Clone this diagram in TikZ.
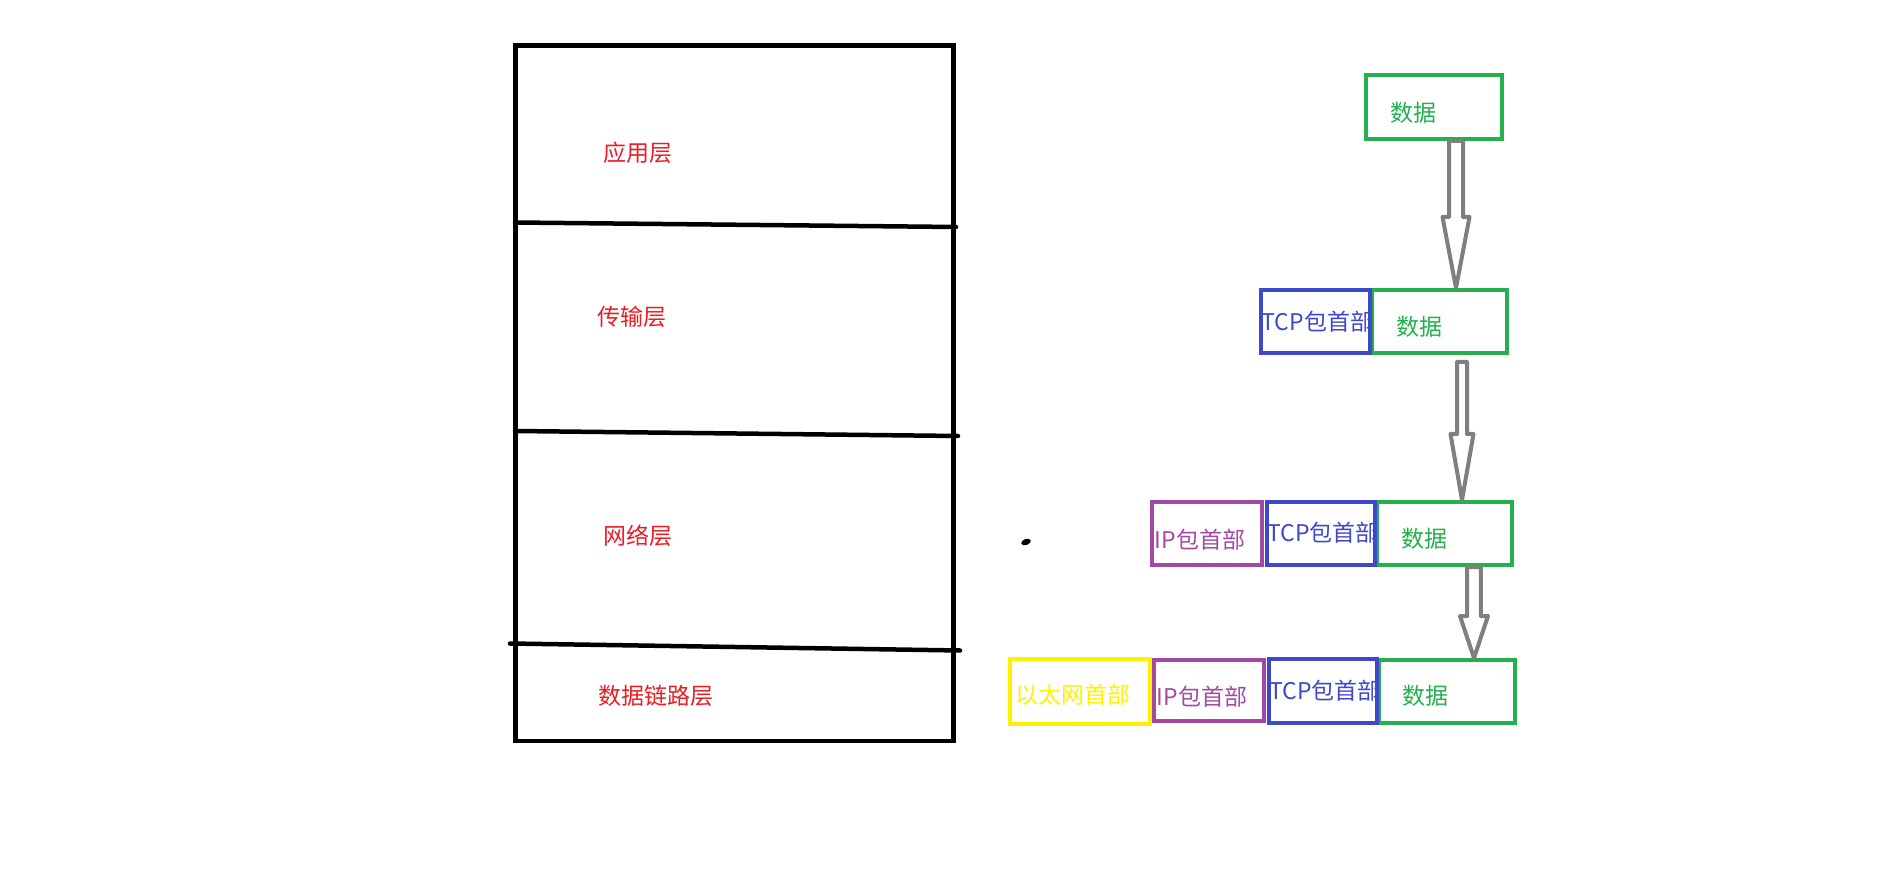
\documentclass[tikz,border=0pt]{standalone}
\usepackage{fontspec}
\setmainfont{Noto Sans CJK SC}
\usetikzlibrary{calc}
\definecolor{pred}{HTML}{ED1C24}
\definecolor{pgreen}{HTML}{22B14C}
\definecolor{pblue}{HTML}{3F48CC}
\definecolor{ppurple}{HTML}{A349A4}
\definecolor{pyellow}{HTML}{FFF200}
\definecolor{pgray}{HTML}{7F7F7F}
\tikzset{
  txt/.style={font=\fontsize{23}{27}\selectfont, inner sep=0pt},
  lay/.style={txt, text=pred},
  sep/.style={line width=4.5pt, line cap=round},
  box/.style={draw, line width=4pt},
  gbox/.style={box, pgreen}, btxt/.style={txt, text=pblue},
  bbox/.style={box, pblue}, gtxt/.style={txt, text=pgreen},
  pbox/.style={box, ppurple}, ptxt/.style={txt, text=ppurple},
  ybox/.style={box, pyellow}, ytxt/.style={txt, text=pyellow},
  hollow/.style={draw=pgray, fill=white, line width=4pt, line join=round}
}
\newcommand{\fatarrow}[5]{%
  \path[hollow] let \p1=(#1), \p2=(#2) in
    (\x1-#4,\y1) -- (\x1-#4,\y2+#3) -- (\x1-#5,\y2+#3) -- (\x1,\y2)
    -- (\x1+#5,\y2+#3) -- (\x1+#4,\y2+#3) -- (\x1+#4,\y1) -- cycle;}
\begin{document}
\begin{tikzpicture}[x=1pt,y=-1pt]
\fill[white] (0,0) rectangle (1904,882);
\useasboundingbox (0,0) rectangle (1904,882);

\draw[line width=4.7pt] (515.5,45.5) rectangle (953.5,741);
\draw[sep] (515,222.5) -- (956,227);
\draw[sep] (515,431) -- (958,436);
\draw[sep] (510,643.5) -- (960,650.5);
\node[lay] (app) at (637.5,153) {应用层};
\node[lay] (tra) at (632,317) {传输层};
\node[lay] (net) at (638,536) {网络层};
\node[lay] (lnk) at (656,696) {数据链路层};

\fill[rotate around={20:(1026,542)}] (1026,542) ellipse (5 and 3);

\node[gtxt] (d1l) at (1413,113) {数据};
\node[gbox, minimum width=136pt, minimum height=64pt] (d1) at (1434,107) {};

\node[btxt] (t2l) at (1317.5,322) {TCP包首部};
\node[gtxt] (d2l) at (1419,327) {数据};
\node[gbox, minimum width=135pt, minimum height=63pt] (d2) at (1439.5,321.5) {};
\node[bbox, minimum width=109pt, minimum height=63pt] (t2) at (1315.5,321.5) {};

\node[ptxt] (i3l) at (1200,540) {IP包首部};
\node[btxt] (t3l) at (1323,533) {TCP包首部};
\node[gtxt] (d3l) at (1424.5,538.5) {数据};
\node[gbox, minimum width=135pt, minimum height=63pt] (d3) at (1444.5,533.5) {};
\node[bbox, minimum width=108pt, minimum height=63pt] (t3) at (1321,533.5) {};
\node[pbox, minimum width=110pt, minimum height=63pt] (i3) at (1207,533.5) {};

\node[ytxt] (e4l) at (1072.5,695) {以太网首部};
\node[ptxt] (i4l) at (1202,697) {IP包首部};
\node[btxt] (t4l) at (1325,691) {TCP包首部};
\node[gtxt] (d4l) at (1425.5,696) {数据};
\node[gbox, minimum width=136pt, minimum height=63pt] (d4) at (1447,691.5) {};
\node[bbox, minimum width=108pt, minimum height=64pt] (t4) at (1323,691) {};
\node[pbox, minimum width=110pt, minimum height=61pt] (i4) at (1209,690.5) {};
\node[ybox, minimum width=140pt, minimum height=65pt] (e4) at (1080,691.5) {};

\coordinate (a1) at (1456,0);
\coordinate (a2) at (1462,0);
\coordinate (a3) at (1474,0);
\fatarrow{a1 |- d1.south}{a1 |- d2.north}{71pt}{7pt}{13.5pt}
\fatarrow{$(a2 |- d2.south)+(0,7)$}{a2 |- d3.north}{66pt}{5pt}{11.5pt}
\fatarrow{a3 |- d3.south}{a3 |- d4.north}{42pt}{6.8pt}{14pt}
\end{tikzpicture}
\end{document}
